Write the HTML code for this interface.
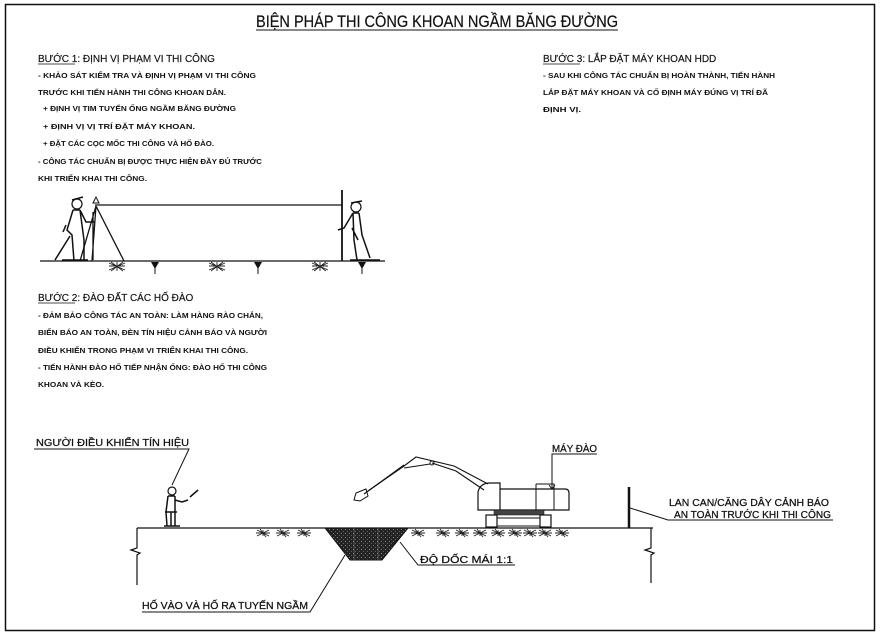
<!DOCTYPE html>
<html><head><meta charset="utf-8"><style>
html,body{margin:0;padding:0;background:#fff;}
svg{display:block;}
text{font-family:"Liberation Sans","Noto Sans CJK SC",sans-serif;fill:#111;}
.h{font-size:10px;stroke:#111;stroke-width:0.15;}
.b{font-size:7.5px;font-weight:bold;}
.l{font-size:10.5px;stroke:#111;stroke-width:0.25;}
</style></head><body>
<svg width="881" height="636" viewBox="0 0 881 636" xmlns="http://www.w3.org/2000/svg">
<defs>
<pattern id="dots" width="4" height="4" patternUnits="userSpaceOnUse">
<rect width="4" height="4" fill="#222"/><rect x="1" y="1" width="1" height="1" fill="#888"/><rect x="3" y="3" width="1" height="1" fill="#666"/>
</pattern>
<g id="hatch" stroke="#222" stroke-width="0.9" fill="none">
<path d="M-8,-3 L8,4 M-8,4 L8,-3 M-6,-4 L6,5 M-6,5 L6,-4 M0,-4 L0,5 M-8,0 L8,0"/>
</g>
<g id="grass" stroke="#222" stroke-width="0.9" fill="none">
<path d="M-6,0 L6,6 M-6,6 L6,0 M-3,-1 L3,7 M0,0 L0,6 M-7,3 L7,3"/>
</g>
<g id="peg"><path d="M-4,0 L4,0 L0,7 Z" fill="#111"/><path d="M0,5 L0,12" stroke="#111" stroke-width="1"/></g>
</defs>
<rect x="5.5" y="4.5" width="869" height="626" fill="none" stroke="#111" stroke-width="1.5"/>

<text x="437" y="27" font-size="16.5" text-anchor="middle" textLength="362" lengthAdjust="spacingAndGlyphs" stroke="#111" stroke-width="0.2">BIỆN PHÁP THI CÔNG KHOAN NGẦM BĂNG ĐƯỜNG</text>
<line x1="256" y1="30" x2="618" y2="30" stroke="#111" stroke-width="1"/>

<text class="h" x="38" y="62"><tspan>BƯỚC 1:</tspan> ĐỊNH VỊ PHẠM VI THI CÔNG</text>
<line x1="38" y1="64" x2="75" y2="64" stroke="#111" stroke-width="0.7"/>
<text class="b" x="38" y="78" textLength="218" lengthAdjust="spacingAndGlyphs">- KHẢO SÁT KIỂM TRA VÀ ĐỊNH VỊ PHẠM VI THI CÔNG</text>
<text class="b" x="38" y="95" textLength="188" lengthAdjust="spacingAndGlyphs">TRƯỚC KHI TIẾN HÀNH THI CÔNG KHOAN DẪN.</text>
<text class="b" x="43" y="111" textLength="193" lengthAdjust="spacingAndGlyphs">+ ĐỊNH VỊ TIM TUYẾN ỐNG NGẦM BĂNG ĐƯỜNG</text>
<text class="b" x="43" y="129" textLength="152" lengthAdjust="spacingAndGlyphs">+ ĐỊNH VỊ VỊ TRÍ ĐẶT MÁY KHOAN.</text>
<text class="b" x="43" y="146" textLength="171" lengthAdjust="spacingAndGlyphs">+ ĐẶT CÁC CỌC MỐC THI CÔNG VÀ HỐ ĐÀO.</text>
<text class="b" x="38" y="164" textLength="224" lengthAdjust="spacingAndGlyphs">- CÔNG TÁC CHUẨN BỊ ĐƯỢC THỰC HIỆN ĐẦY ĐỦ TRƯỚC</text>
<text class="b" x="38" y="181" textLength="109" lengthAdjust="spacingAndGlyphs">KHI TRIỂN KHAI THI CÔNG.</text>

<text class="h" x="543" y="62"><tspan>BƯỚC 3:</tspan> LẮP ĐẶT MÁY KHOAN HDD</text>
<line x1="543" y1="64" x2="580" y2="64" stroke="#111" stroke-width="0.7"/>
<text class="b" x="543" y="78" textLength="232" lengthAdjust="spacingAndGlyphs">- SAU KHI CÔNG TÁC CHUẨN BỊ HOÀN THÀNH, TIẾN HÀNH</text>
<text class="b" x="543" y="95" textLength="225" lengthAdjust="spacingAndGlyphs">LẮP ĐẶT MÁY KHOAN VÀ CỐ ĐỊNH MÁY ĐÚNG VỊ TRÍ ĐÃ</text>
<text class="b" x="543" y="112" textLength="38" lengthAdjust="spacingAndGlyphs">ĐỊNH VỊ.</text>

<!-- survey scene -->
<g stroke="#111" fill="none">
<line x1="40" y1="261" x2="385" y2="261" stroke-width="1.3"/>
<line x1="95" y1="205" x2="342" y2="205" stroke-width="1.2"/>
<line x1="342" y1="190" x2="342" y2="261" stroke-width="1.8"/>
<path d="M93,203 l3,-6 l3,6 z" stroke-width="1"/>
<path d="M96,206 L92,261 M96,206 L124,261 M96,206 L80,261 M93,212 L93,260" stroke-width="1.3"/>
<circle cx="77" cy="204" r="5" stroke-width="1.2"/>
<path d="M72,200 l11,-3" stroke-width="1.5"/>
<path d="M73,210 L67,230 L72,235 L74,261 M80,210 L86,222 L95,222 M80,210 L84,240 L84,260 M73,210 L80,210 M70,236 L55,260 M62,260 L88,260 M66,225 L63,232" stroke-width="1.5"/>
<circle cx="356" cy="207" r="5" stroke-width="1.2"/>
<path d="M351,203 l11,-2" stroke-width="1.5"/>
<path d="M353,213 L344,228 L338,230 M359,213 L362,235 L370,258 M353,213 L354,240 L357,260 M353,213 L359,213 M352,228 L358,240 M350,260 L380,260" stroke-width="1.5"/>
</g>
<use href="#hatch" x="117" y="266"/><use href="#hatch" x="217" y="266"/><use href="#hatch" x="320" y="266"/>
<use href="#peg" x="155" y="262"/><use href="#peg" x="258" y="262"/><use href="#peg" x="362" y="262"/>

<text class="h" x="38" y="301"><tspan>BƯỚC 2:</tspan> ĐÀO ĐẤT CÁC HỐ ĐÀO</text>
<line x1="38" y1="303" x2="75" y2="303" stroke="#111" stroke-width="0.7"/>
<text class="b" x="38" y="318" textLength="225" lengthAdjust="spacingAndGlyphs">- ĐẢM BẢO CÔNG TÁC AN TOÀN: LÀM HÀNG RÀO CHẮN,</text>
<text class="b" x="38" y="335" textLength="229" lengthAdjust="spacingAndGlyphs">BIỂN BÁO AN TOÀN, ĐÈN TÍN HIỆU CẢNH BÁO VÀ NGƯỜI</text>
<text class="b" x="38" y="353" textLength="210" lengthAdjust="spacingAndGlyphs">ĐIỀU KHIỂN TRONG PHẠM VI TRIỂN KHAI THI CÔNG.</text>
<text class="b" x="38" y="370" textLength="229" lengthAdjust="spacingAndGlyphs">- TIẾN HÀNH ĐÀO HỐ TIẾP NHẬN ỐNG: ĐÀO HỐ THI CÔNG</text>
<text class="b" x="38" y="387" textLength="66" lengthAdjust="spacingAndGlyphs">KHOAN VÀ KÈO.</text>

<!-- bottom scene -->
<text class="l" x="36" y="446" textLength="153" lengthAdjust="spacingAndGlyphs">NGƯỜI ĐIỀU KHIỂN TÍN HIỆU</text>
<g stroke="#111" fill="none">
<path d="M34,449 L189,449 L172,485" stroke-width="1"/>
<path d="M137,528 L653,528" stroke-width="1.3"/>
<path d="M137,528 L137,548 L131,550 L140,553 L137,555 L137,585" stroke-width="1.2"/>
<path d="M651,528 L651,548 L645,550 L654,553 L651,555 L651,583" stroke-width="1.2"/>
<circle cx="172" cy="491" r="4" stroke-width="1.2"/>
<path d="M168,496 L166,512 L167,526 M175,496 L175,526 M168,496 L175,496 M171,526 L171,512 M175,500 L182,502 L188,500 M190,497 L198,490 M165,512 L177,512 M164,526 L180,526" stroke-width="1.5"/>
<path d="M629,487 L629,528" stroke-width="2.5"/>
<path d="M630,508 L668,520 L833,520" stroke-width="1"/>
<path d="M325,528 L350,560 L382,560 L408,528 Z" fill="url(#dots)" stroke-width="1"/>
<path d="M354,528 L354,560 M378,528 L378,560" stroke="#777" stroke-width="0.6"/>
<path d="M345,555 L310,612 L142,612" stroke-width="1"/>
<path d="M400,542 L418,565 L515,565" stroke-width="1"/>
<path d="M478,510 L478,492 Q480,483 490,483 L500,483 L500,510 Z" stroke-width="1.2"/>
<path d="M500,489 L565,489 Q569,489 569,493 L569,510 L500,510" stroke-width="1.2"/>
<path d="M536,484 L554,484 L554,510 M536,484 L536,510" stroke-width="1"/>
<rect x="494" y="510" width="50" height="5" fill="#444" stroke-width="0.5"/>
<rect x="486" y="515" width="11" height="12" stroke-width="1.2"/>
<rect x="540" y="515" width="11" height="12" stroke-width="1.2"/>
<path d="M497,518 L540,518 M497,526 L540,526" stroke-width="1"/>
<path d="M488,484 L454,466 L416,457 L404,466 L368,491 M484,490 L456,471 L432,463" stroke-width="1.1"/>
<path d="M404,465 L364,494 M430,464 L404,468" stroke-width="1.1"/>
<path d="M366,489 L356,493 L354,500 L360,501 L368,496 Z" stroke-width="1"/>
<circle cx="432" cy="463" r="2" stroke-width="1"/>
<path d="M552,489 L552,454 L597,454" stroke-width="1"/>
<path d="M549,485 l3,4 l3,-4" stroke-width="1"/>
</g>
<use href="#grass" x="263" y="530"/><use href="#grass" x="283" y="530"/><use href="#grass" x="304" y="530"/>
<use href="#grass" x="418" y="530"/><use href="#grass" x="443" y="530"/><use href="#grass" x="462" y="530"/>
<use href="#grass" x="480" y="530"/><use href="#grass" x="498" y="530"/><use href="#grass" x="515" y="530"/>
<use href="#grass" x="530" y="530"/><use href="#grass" x="545" y="530"/><use href="#grass" x="562" y="530"/>
<text class="l" x="552" y="452" textLength="45" lengthAdjust="spacingAndGlyphs">MÁY ĐÀO</text>
<text class="l" x="669" y="506" textLength="160" lengthAdjust="spacingAndGlyphs">LAN CAN/CĂNG DÂY CẢNH BÁO</text>
<text class="l" x="674" y="518" textLength="157" lengthAdjust="spacingAndGlyphs">AN TOÀN TRƯỚC KHI THI CÔNG</text>
<text class="l" x="420" y="563" textLength="93" lengthAdjust="spacingAndGlyphs">ĐỘ DỐC MÁI 1:1</text>
<text class="l" x="142" y="609" textLength="166" lengthAdjust="spacingAndGlyphs">HỐ VÀO VÀ HỐ RA TUYẾN NGẦM</text>
</svg>
</body></html>
